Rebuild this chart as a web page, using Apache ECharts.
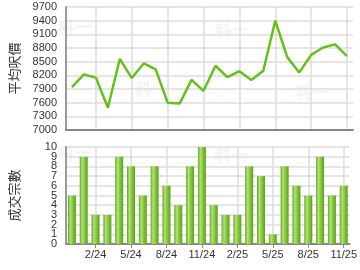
<!DOCTYPE html>
<html><head><meta charset="utf-8">
<script src="https://cdn.jsdelivr.net/npm/echarts@6/dist/echarts.min.js"></script>
<style>html,body{margin:0;padding:0;background:#fff}#c{width:360px;height:270px}</style>
</head><body><div id="c"></div>
<script>
const categories = ['12/23','1/24','2/24','3/24','4/24','5/24','6/24','7/24','8/24','9/24','10/24','11/24','12/24','1/25','2/25','3/25','4/25','5/25','6/25','7/25','8/25','9/25','10/25','11/25'];
const avgPrice = [7940,8220,8150,7490,8560,8140,8460,8330,7600,7580,8100,7860,8410,8160,8290,8100,8300,9400,8600,8260,8650,8810,8880,8620];
const deals = [5,9,3,3,9,8,5,8,6,4,8,10,4,3,3,8,7,1,8,6,5,9,5,6];
const dealTicks = ['0','1','2','3','4','5','6','7','8','9','10'];
const priceName = '平均呎價';
const dealsName = '成交宗數';

const showIdx = (i) => (i - 2) % 3 === 0;
const txt = {color:'#333', fontFamily:'Liberation Sans, Arial, sans-serif', fontSize:11};
const grid = {color:'#dcdcdc', width:1.5};
const wm = {fill:'#f3f3f3', font:'bold 17px sans-serif'};

const chart = echarts.init(document.getElementById('c'), null, {renderer:'canvas'});
chart.setOption({
  animation:false,
  grid:[
    {left:65, top:7, width:288, height:123},
    {left:65, top:147, width:288, height:97}
  ],
  graphic:[
    {type:'text', left:58, top:20, style:Object.assign({text:'科一'}, wm)},
    {type:'text', left:135, top:82, style:Object.assign({text:'科一'}, wm)},
    {type:'text', left:215, top:23, style:Object.assign({text:'科一'}, wm)},
    {type:'text', left:295, top:85, style:Object.assign({text:'科一'}, wm)},
    {type:'text', left:58, top:146, style:Object.assign({text:'科一'}, wm)},
    {type:'text', left:215, top:148, style:Object.assign({text:'科一'}, wm)}
  ],
  xAxis:[
    {type:'category', gridIndex:0, data:categories, boundaryGap:true,
     axisLine:{lineStyle:{color:'#888', width:2}}, axisTick:{show:false}, axisLabel:{show:false},
     splitLine:{show:true, alignWithLabel:true, interval:(i)=>showIdx(i), lineStyle:grid}},
    {type:'category', gridIndex:1, data:categories, boundaryGap:true,
     axisLine:{lineStyle:{color:'#888', width:2}},
     axisTick:{show:true, alignWithLabel:true, interval:(i)=>showIdx(i), length:4, lineStyle:{color:'#888'}},
     axisLabel:Object.assign({interval:(i)=>showIdx(i), margin:5}, txt),
     splitLine:{show:true, alignWithLabel:true, interval:(i)=>showIdx(i), lineStyle:grid}}
  ],
  yAxis:[
    {type:'value', gridIndex:0, min:7000, max:9700, interval:300,
     name:priceName, nameLocation:'middle', nameGap:45, nameRotate:90,
     nameTextStyle:{color:'#333', fontSize:13, fontFamily:'Noto Sans CJK TC'},
     axisLine:{show:true, lineStyle:{color:'#999', width:2}}, axisTick:{show:false},
     axisLabel:Object.assign({margin:9, formatter:(v)=>String(v)}, txt),
     splitLine:{lineStyle:grid}},
    {type:'value', gridIndex:1, min:0, max:10, interval:1,
     name:dealsName, nameLocation:'middle', nameGap:45, nameRotate:90,
     nameTextStyle:{color:'#333', fontSize:13, fontFamily:'Noto Sans CJK TC'},
     axisLine:{show:true, lineStyle:{color:'#999', width:2}}, axisTick:{show:false},
     axisLabel:{show:false},
     splitLine:{lineStyle:grid}},
    {type:'category', gridIndex:1, data:dealTicks, boundaryGap:false, position:'left',
     axisLine:{show:false}, axisTick:{show:false}, splitLine:{show:false},
     axisLabel:Object.assign({margin:9, interval:0}, txt)}
  ],
  series:[
    {type:'line', xAxisIndex:0, yAxisIndex:0, data:avgPrice, symbol:'none',
     lineStyle:{color:'#66c01a', width:2.5}},
    {type:'bar', xAxisIndex:1, yAxisIndex:1, data:deals, barWidth:8,
     itemStyle:{color:new echarts.graphic.LinearGradient(0,0,1,0,[
       {offset:0, color:'#63a81f'},{offset:0.3, color:'#b2e07a'},{offset:0.55, color:'#8ccc45'},{offset:1, color:'#5b9f1a'}])}}
  ]
});
</script></body></html>
